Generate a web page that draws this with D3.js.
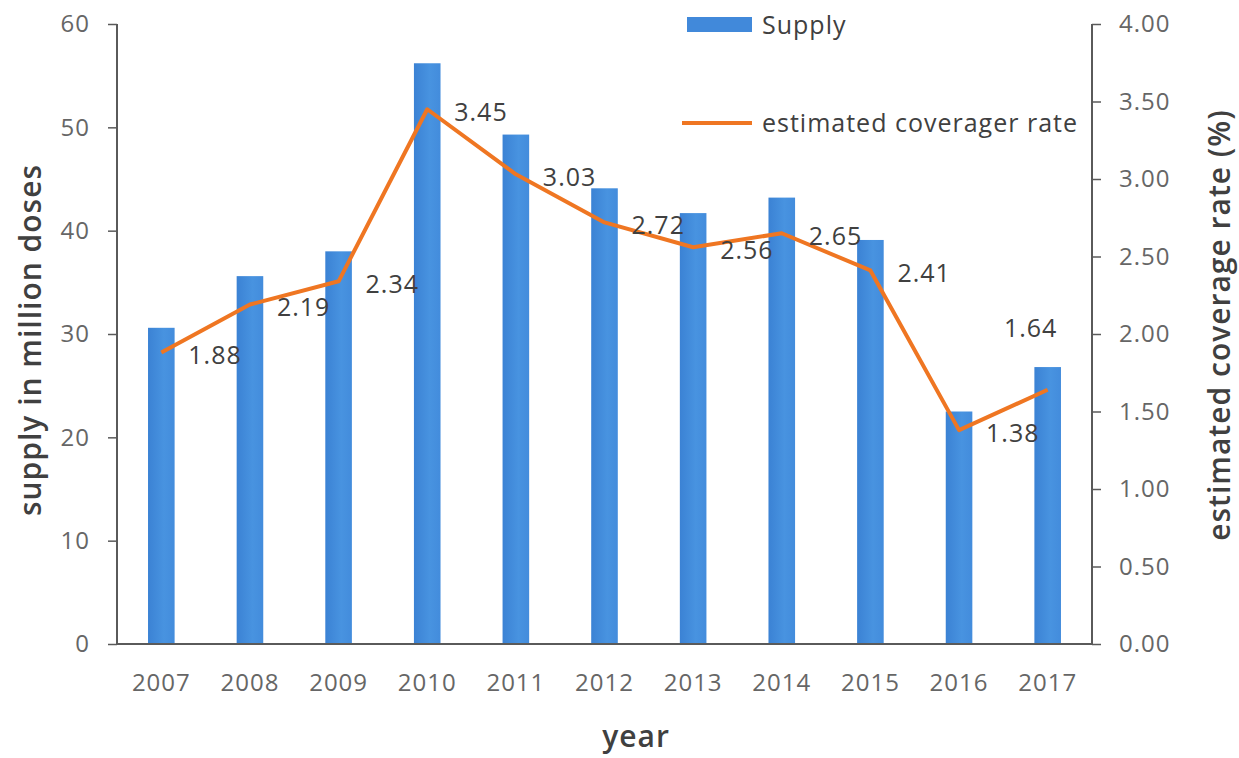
<!DOCTYPE html>
<html>
<head>
<meta charset="utf-8">
<script src="https://cdn.jsdelivr.net/npm/d3@7/dist/d3.min.js"></script>
<style>
  html, body { margin: 0; padding: 0; background: #fff; }
  svg { display: block; font-family: "Open Sans", "Noto Sans", sans-serif; }
</style>
</head>
<body>
<svg id="chart" width="1239" height="758"></svg>
<script>
// Vaccine supply (bars, left axis) and estimated coverage rate (line, right axis)
const years = ["2007","2008","2009","2010","2011","2012","2013","2014","2015","2016","2017"];
const supply = [30.6, 35.6, 38.0, 56.2, 49.3, 44.1, 41.7, 43.2, 39.1, 22.5, 26.8];
const coverage = [1.88, 2.19, 2.34, 3.45, 3.03, 2.72, 2.56, 2.65, 2.41, 1.38, 1.64];
const supplyTicks = [0, 10, 20, 30, 40, 50, 60];
const coverageTicks = [0, 0.5, 1, 1.5, 2, 2.5, 3, 3.5, 4];

const svg = d3.select("#chart");
const plotLeft = 117, plotRight = 1092, plotTop = 24, plotBottom = 644;

const x = d3.scaleBand().domain(years).range([plotLeft, plotRight])
  .paddingInner(0.7).paddingOuter(0.35);
const yL = d3.scaleLinear().domain([0, 60]).range([plotBottom, plotTop]);
const yR = d3.scaleLinear().domain([0, 4]).range([plotBottom, plotTop]);

const barColor = "#4189da";
const lineColor = "#ef7622";
const tickColor = "#666666";
const labelColor = "#404040";

// bar gradient: slightly darker left edge
const defs = svg.append("defs");
const grad = defs.append("linearGradient").attr("id", "barGrad")
  .attr("x1", "0%").attr("x2", "100%").attr("y1", "0%").attr("y2", "0%");
grad.append("stop").attr("offset", "0%").attr("stop-color", "#3b82d4");
grad.append("stop").attr("offset", "60%").attr("stop-color", "#4893e0");
grad.append("stop").attr("offset", "100%").attr("stop-color", "#438cdc");

// bars
svg.append("g").selectAll("rect").data(years).join("rect")
  .attr("x", d => x(d))
  .attr("width", x.bandwidth())
  .attr("y", (d, i) => yL(supply[i]))
  .attr("height", (d, i) => yL(0) - yL(supply[i]))
  .attr("fill", "url(#barGrad)");

// left axis
const axL = svg.append("g").attr("transform", `translate(${plotLeft},0)`)
  .call(d3.axisLeft(yL).tickValues(supplyTicks).tickSize(9).tickPadding(18).tickFormat(d3.format("d")));
// right axis
const axR = svg.append("g").attr("transform", `translate(${plotRight},0)`)
  .call(d3.axisRight(yR).tickValues(coverageTicks).tickSize(9).tickPadding(18).tickFormat(d3.format(".2f")));
// bottom axis
const axB = svg.append("g").attr("transform", `translate(0,${plotBottom})`)
  .call(d3.axisBottom(x).tickSize(0).tickPadding(30));

[axL, axR, axB].forEach(g => {
  g.select(".domain").attr("stroke", "#5a5a5a").attr("stroke-width", 2);
  g.selectAll(".tick line").attr("stroke", "#5a5a5a").attr("stroke-width", 1.5);
  g.selectAll(".tick text").attr("fill", tickColor)
    .style("font-size", "24px").style("letter-spacing", "1px")
    .style("font-family", "'Open Sans', sans-serif");
});
axB.select(".domain").attr("d", `M${plotLeft},0H${plotRight}`);
axL.select(".domain").attr("d", `M0,${plotTop}V${plotBottom}`);
axR.select(".domain").attr("d", `M0,${plotTop}V${plotBottom}`);

// coverage line
const line = d3.line()
  .x((d, i) => x(years[i]) + x.bandwidth() / 2)
  .y(d => yR(d));
svg.append("path").datum(coverage)
  .attr("d", line)
  .attr("fill", "none")
  .attr("stroke", lineColor)
  .attr("stroke-width", 4)
  .attr("stroke-linejoin", "round");

// value labels: to the right of each point, last one above
svg.append("g").selectAll("text").data(coverage).join("text")
  .attr("x", (d, i) => {
    const cx = x(years[i]) + x.bandwidth() / 2;
    return i === coverage.length - 1 ? cx - 17 : cx + 27;
  })
  .attr("y", (d, i) => {
    const cy = yR(d);
    return i === coverage.length - 1 ? cy - 62 : cy + 3;
  })
  .attr("dy", "0.35em")
  .attr("text-anchor", (d, i) => i === coverage.length - 1 ? "middle" : "start")
  .attr("fill", labelColor)
  .style("font-size", "25px").style("letter-spacing", "1px")
  .text(d => d3.format(".2f")(d));

// axis titles
const titleStyle = sel => sel
  .attr("text-anchor", "middle")
  .attr("fill", labelColor)
  .style("font-size", "30px").style("font-weight", "600").style("letter-spacing", "1px");
svg.append("text")
  .attr("transform", `translate(41,340) rotate(-90)`)
  .call(titleStyle)
  .text("supply in million doses");
svg.append("text")
  .attr("transform", `translate(1230,325) rotate(-90)`)
  .call(titleStyle)
  .text("estimated coverage rate (%)");
svg.append("text")
  .attr("x", 636).attr("y", 747)
  .call(titleStyle)
  .text("year");

// legend
const legend = svg.append("g");
legend.append("rect").attr("x", 687).attr("y", 17).attr("width", 65).attr("height", 15)
  .attr("fill", barColor);
legend.append("text").attr("x", 762).attr("y", 25).attr("dy", "0.35em")
  .attr("fill", labelColor).style("font-size", "25px").style("letter-spacing", "1px")
  .text("Supply");
legend.append("line").attr("x1", 682).attr("x2", 752).attr("y1", 123).attr("y2", 123)
  .attr("stroke", lineColor).attr("stroke-width", 4);
legend.append("text").attr("x", 762).attr("y", 123).attr("dy", "0.35em")
  .attr("fill", labelColor).style("font-size", "25px").style("letter-spacing", "1px")
  .text("estimated coverager rate");
</script>
</body>
</html>
